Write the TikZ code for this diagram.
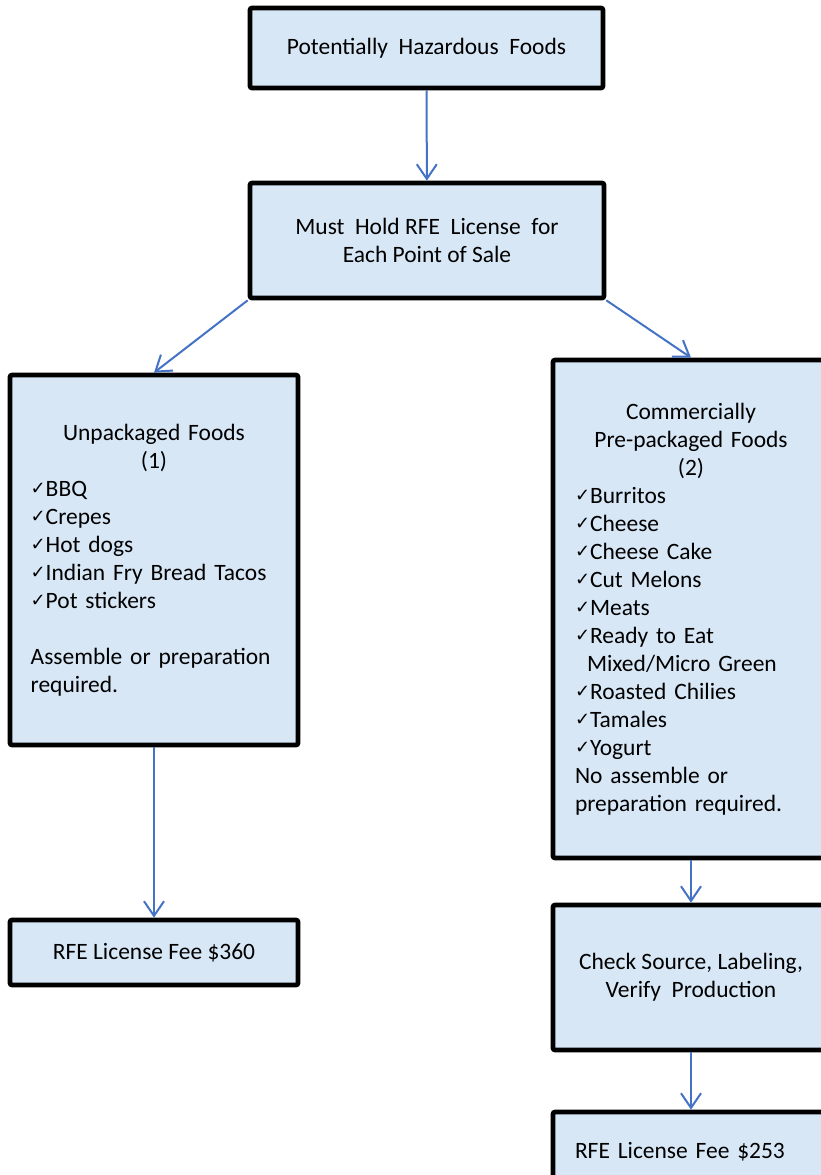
\documentclass[tikz,border=0pt]{standalone}
\usepackage{fontspec}
\setmainfont{Carlito}
\newfontfamily\symfont{DejaVu Sans}
\usetikzlibrary{arrows.meta}

\definecolor{boxfill}{RGB}{216,231,246}
\definecolor{linkblue}{RGB}{68,114,196}
\newcommand\ck{{\symfont\fontsize{13.5}{10}\selectfont\raisebox{1pt}{✓}}}

\tikzset{every picture/.style={line width=0.75pt}}

\begin{document}
\begin{tikzpicture}[x=0.75pt,y=0.75pt,yscale=-1,xscale=1,
	box/.style={draw=black,line width=3.5pt,rounded corners=1.5pt,fill=boxfill,
		font=\fontsize{17.6}{21}\selectfont,inner sep=0pt},
	link/.style={draw=linkblue,line width=1.5pt,-{Straight Barb[length=11pt,width=15pt,line width=1.5pt]}}]
	%set diagram to 821 x 1175
	\useasboundingbox (0,0) rectangle (821,1175);
	\clip (0,0) rectangle (821,1175);
	
	%Shape: Rectangle
	\node [box,minimum width=264.75pt,minimum height=60pt] (haz) at (426.5,48) {Potentially~ Hazardous~ Foods};
	%Shape: Rectangle
	\node [box,minimum width=265.5pt,minimum height=86.25pt,align=center] (rfe) at (427,240.5) {Must~ Hold RFE~ License~ for\\Each Point of Sale};
	%Shape: Rectangle
	\node [box,minimum width=216pt,minimum height=277.5pt,text width=185pt] (unpack) at (154,560) {%
		{\centering Unpackaged Foods\\(1)\par}\raggedright
		\ck BBQ\\
		\ck Crepes\\
		\ck Hot dogs\\
		\ck Indian Fry Bread Tacos\\
		\ck Pot stickers\\[21pt]
		Assemble or preparation required.};
	%Shape: Rectangle
	\node [box,minimum width=207pt,minimum height=373.5pt,text width=174pt] (prepack) at (691,609) {%
		{\centering Commercially\\Pre-packaged Foods\\(2)\par}\raggedright
		\ck Burritos\\
		\ck Cheese\\
		\ck Cheese Cake\\
		\ck Cut Melons\\
		\ck Meats\\
		\ck Ready to Eat\\
		\hspace*{9pt}Mixed/Micro Green\\
		\ck Roasted Chilies\\
		\ck Tamales\\
		\ck Yogurt\\
		No assemble or\\
		preparation required.};
	%Shape: Rectangle
	\node [box,minimum width=216pt,minimum height=48.75pt] (fee1) at (154,952.5) {RFE License Fee \$360};
	%Shape: Rectangle
	\node [box,minimum width=207pt,minimum height=108.75pt,align=center] (check) at (691,977.5) {Check Source, Labeling,\\Verify~ Production};
	%Shape: Rectangle
	\node [box,minimum width=207pt,minimum height=60pt,text width=174pt,align=left] (fee2) at (691,1152) {RFE License Fee \$253\\[6pt]};
	
	%Straight Lines
	\draw [link] (haz) -- (rfe);
	\draw [link] (rfe.south west) -- (unpack.north);
	\draw [link] (rfe.south east) -- (prepack.north);
	\draw [link] (unpack) -- (fee1);
	\draw [link] (prepack) -- (check);
	\draw [link] (check) -- (fee2);
\end{tikzpicture}
\end{document}
